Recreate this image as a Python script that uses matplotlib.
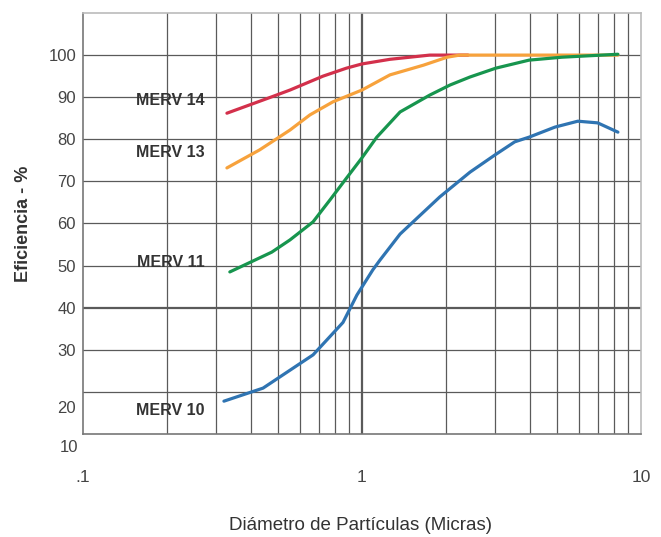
import matplotlib
matplotlib.use("Agg")
import matplotlib.pyplot as plt
from matplotlib.ticker import FixedLocator, NullFormatter

matplotlib.rcParams['font.family'] = ['Liberation Sans', 'DejaVu Sans']

# particle diameter (micras) / efficiency (%)
merv14_x = [0.328, 0.48, 0.552, 0.725, 0.88, 1.0, 1.26, 1.75, 2.4]
merv14_y = [86.2, 90.2, 91.7, 95.0, 96.9, 97.9, 99.0, 100.0, 100.0]

merv13_x = [0.328, 0.43, 0.552, 0.651, 0.787, 1.0, 1.26, 1.66, 2.02, 2.24, 8.27]
merv13_y = [73.2, 77.5, 82.2, 85.8, 88.9, 91.7, 95.3, 97.6, 99.5, 100.0, 100.0]

merv11_x = [0.336, 0.475, 0.552, 0.668, 0.768, 0.869, 1.0, 1.13, 1.37, 1.75,
            2.07, 2.44, 3.02, 3.97, 5.21, 8.27]
merv11_y = [48.5, 53.2, 56.1, 60.4, 65.6, 70.3, 75.6, 80.5, 86.5, 90.5,
            92.9, 94.8, 96.9, 98.8, 99.5, 100.2]

merv10_x = [0.32, 0.442, 0.668, 0.855, 0.959, 1.094, 1.16, 1.37, 1.9, 2.44, 3.0,
            3.53, 3.97, 4.92, 5.94, 7.0, 8.27]
merv10_y = [17.8, 20.9, 28.8, 36.5, 43.0, 49.0, 51.3, 57.5, 66.3, 72.2, 76.3,
            79.4, 80.5, 82.9, 84.3, 83.9, 81.7]

# the original image has the two lowest labels shifted below their grid lines
ytick_pos = [16.4, 30, 40, 50, 60, 70, 80, 90, 100]
ytick_lab = ['20', '30', '40', '50', '60', '70', '80', '90', '100']
ygrid = [20, 30, 40, 50, 60, 70, 80, 90, 100]
xgrid = [0.2, 0.3, 0.4, 0.5, 0.6, 0.7, 0.8, 0.9, 1, 2, 3, 4, 5, 6, 7, 8, 9]

labels = [('MERV 14', 0.273, 89.2), ('MERV 13', 0.273, 76.8),
          ('MERV 11', 0.273, 50.8), ('MERV 10', 0.273, 15.6)]

fig = plt.figure(figsize=(6.61, 5.37), dpi=100)
ax = fig.add_axes([0.1256, 0.1918, 0.844, 0.7840])

ax.set_xscale('log')
ax.set_xlim(0.1, 10)
ax.set_ylim(10, 110)

grid_c = '#5a5a5a'
for gx in xgrid:
    ax.axvline(gx, color=grid_c, lw=1.6 if gx == 1 else 0.9, zorder=1)
for gy in ygrid:
    ax.axhline(gy, color=grid_c, lw=1.6 if gy == 40 else 0.9, zorder=1)

ax.plot(merv14_x, merv14_y, color='#d3304b', lw=2.3, zorder=3, solid_capstyle='round')
ax.plot(merv13_x, merv13_y, color='#f7a23c', lw=2.3, zorder=4, solid_capstyle='round')
ax.plot(merv11_x, merv11_y, color='#17954e', lw=2.3, zorder=5, solid_capstyle='round')
ax.plot(merv10_x, merv10_y, color='#2f74b2', lw=2.3, zorder=5, solid_capstyle='round')

for txt, lx, ly in labels:
    ax.text(lx, ly, txt, ha='right', va='center', fontsize=11.5,
            fontweight='bold', color='#333333', zorder=6)

ax.yaxis.set_major_locator(FixedLocator(ytick_pos))
ax.set_yticklabels(ytick_lab)
ax.yaxis.set_minor_locator(FixedLocator([]))
ax.tick_params(axis='y', length=0, pad=5, labelsize=12, labelcolor='#444444')
# lowest label sits below the axis box in the original
ax.text(-0.009, -0.031, '10', transform=ax.transAxes, ha='right', va='center',
        fontsize=12, color='#444444')

ax.xaxis.set_major_locator(FixedLocator([0.1, 1, 10]))
ax.set_xticklabels(['.1', '1', '10'])
ax.xaxis.set_minor_locator(FixedLocator([]))
ax.xaxis.set_minor_formatter(NullFormatter())
ax.tick_params(axis='x', length=0, pad=26, labelsize=12.5, labelcolor='#444444')

for side in ['left', 'bottom']:
    ax.spines[side].set_color('#777777')
    ax.spines[side].set_linewidth(1.2)
for side in ['top', 'right']:
    ax.spines[side].set_color('#bbbbbb')
    ax.spines[side].set_linewidth(1.2)

ax.set_ylabel('Eficiencia - %', fontsize=13, fontweight='bold', color='#333333', labelpad=12)
fig.text(0.545, 0.005, 'Diámetro de Partículas (Micras)', ha='center', va='bottom',
         fontsize=13.5, color='#333333')

fig.savefig('out.png', dpi=100)
